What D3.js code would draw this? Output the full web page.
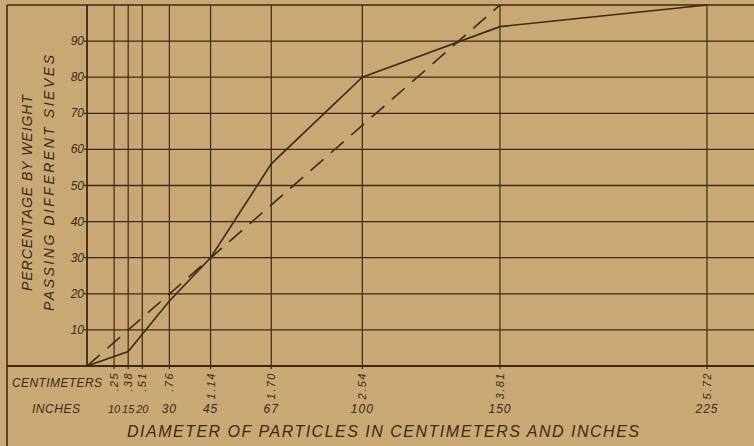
<!DOCTYPE html>
<html>
<head>
<meta charset="utf-8">
<script src="https://cdn.jsdelivr.net/npm/d3@7"></script>
<style>
  body { margin: 0; background: #c9a876; }
  svg { display: block; }
  text { font-family: "Liberation Sans", "DejaVu Sans", sans-serif; font-style: italic; fill: #3b2a12; }
</style>
</head>
<body>
<script>
// sieve sizes, cm on the axis and inch numbers below
var cmTicks = [0.25, 0.38, 0.51, 0.76, 1.14, 1.70, 2.54, 3.81, 5.72];
var cmLabels = [".25", ".38", ".51", ".76", "1.14", "1.70", "2.54", "3.81", "5.72"];
var inchLabels = ["10", "15", "20", "30", "45", "67", "100", "150", "225"];
var pctTicks = [10, 20, 30, 40, 50, 60, 70, 80, 90];

// actual grading (solid) and ideal straight line (dashed)
var solidCm = [0, 0.38, 0.76, 1.14, 1.70, 2.54, 3.81, 5.72];
var solidPct = [0, 4, 18, 30, 56, 80, 94, 100];
var dashedCm = [0, 3.81];
var dashedPct = [0, 100];

var width = 754, height = 446;
var ink = "#3b2a12";

var svg = d3.select("body").append("svg")
    .attr("width", width)
    .attr("height", height);

var x = d3.scaleLinear().domain([0, 5.72]).range([87, 707]);
var y = d3.scaleLinear().domain([0, 100]).range([366, 5]);

var g = svg.append("g");

// horizontal grid
g.selectAll(".hgrid")
    .data(pctTicks)
    .enter()
    .append("line")
    .attr("x1", x(0) - 3)
    .attr("x2", width)
    .attr("y1", function(d) { return y(d); })
    .attr("y2", function(d) { return y(d); })
    .attr("stroke", ink)
    .attr("stroke-width", 1.3);

// vertical grid
g.selectAll(".vgrid")
    .data(cmTicks)
    .enter()
    .append("line")
    .attr("x1", function(d) { return x(d); })
    .attr("x2", function(d) { return x(d); })
    .attr("y1", y(100))
    .attr("y2", y(0) + 3)
    .attr("stroke", ink)
    .attr("stroke-width", 1.2);

// frame + axes
g.append("line").attr("x1", 7).attr("x2", width).attr("y1", y(100)).attr("y2", y(100))
    .attr("stroke", ink).attr("stroke-width", 1.6);
g.append("line").attr("x1", 7).attr("x2", 7).attr("y1", y(100)).attr("y2", height)
    .attr("stroke", ink).attr("stroke-width", 1.6);
g.append("line").attr("x1", 7).attr("x2", width).attr("y1", y(0)).attr("y2", y(0))
    .attr("stroke", ink).attr("stroke-width", 1.8);
g.append("line").attr("x1", x(0)).attr("x2", x(0)).attr("y1", y(100)).attr("y2", y(0))
    .attr("stroke", ink).attr("stroke-width", 1.8);

// y tick labels
g.selectAll(".ylab")
    .data(pctTicks)
    .enter()
    .append("text")
    .attr("x", 84)
    .attr("y", function(d) { return y(d) + 4; })
    .attr("text-anchor", "end")
    .attr("font-size", 12)
    .text(function(d) { return d; });

// cm labels, rotated
g.selectAll(".cmlab")
    .data(cmTicks)
    .enter()
    .append("text")
    .attr("transform", function(d) { return "translate(" + (x(d) + 4) + ",372) rotate(-90)"; })
    .attr("text-anchor", "end")
    .attr("font-size", 11)
    .attr("letter-spacing", 1.5)
    .text(function(d, i) { return cmLabels[i]; });

// inch labels
g.selectAll(".inlab")
    .data(cmTicks)
    .enter()
    .append("text")
    .attr("x", function(d) { return x(d); })
    .attr("y", 413)
    .attr("text-anchor", "middle")
    .attr("font-size", function(d) { return d < 0.6 ? 11 : 12; })
    .attr("letter-spacing", function(d) { return d < 0.6 ? 0 : 1; })
    .text(function(d, i) { return inchLabels[i]; });

g.append("text").attr("x", 12).attr("y", 387).attr("font-size", 12)
    .attr("textLength", 90).attr("lengthAdjust", "spacing").text("CENTIMETERS");
g.append("text").attr("x", 32).attr("y", 413).attr("font-size", 12)
    .attr("textLength", 48).attr("lengthAdjust", "spacing").text("INCHES");

g.append("text").attr("x", 127).attr("y", 437).attr("font-size", 16)
    .attr("textLength", 512).attr("lengthAdjust", "spacing")
    .text("DIAMETER OF PARTICLES IN CENTIMETERS AND INCHES");

// y title, two lines
g.append("text").attr("transform", "translate(32,291) rotate(-90)").attr("font-size", 14)
    .attr("textLength", 196).attr("lengthAdjust", "spacing").text("PERCENTAGE BY WEIGHT");
g.append("text").attr("transform", "translate(54,311) rotate(-90)").attr("font-size", 14)
    .attr("textLength", 256).attr("lengthAdjust", "spacing").text("PASSING DIFFERENT SIEVES");

var line = d3.line()
    .x(function(d) { return x(d[0]); })
    .y(function(d) { return y(d[1]); });

g.append("path")
    .datum(d3.zip(solidCm, solidPct))
    .attr("d", line)
    .attr("fill", "none")
    .attr("stroke", ink)
    .attr("stroke-width", 1.6);

g.append("path")
    .datum(d3.zip(dashedCm, dashedPct))
    .attr("d", line)
    .attr("fill", "none")
    .attr("stroke", ink)
    .attr("stroke-width", 1.6)
    .attr("stroke-dasharray", "17,10");
</script>
</body>
</html>
